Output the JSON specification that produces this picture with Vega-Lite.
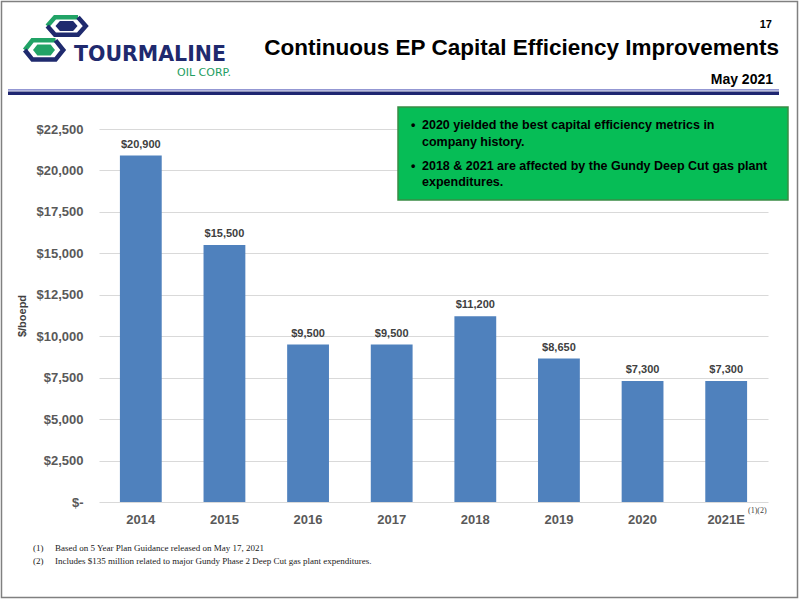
{
  "$schema": "https://vega.github.io/schema/vega-lite/v6.json",
  "description": "Tourmaline EP capital efficiency, $/boepd by year.",
  "width": 669,
  "height": 373,
  "autosize": "none",
  "padding": {"left": 99, "top": 129, "right": 32, "bottom": 98},
  "background": "#ffffff",
  "config": {"view": {"stroke": null}, "font": "Liberation Sans"},
  "resolve": {"scale": {"x": "independent"}},
  "layer": [
    {
      "data": {
        "values": [
          {"year": "2014", "cost": 20900},
          {"year": "2015", "cost": 15500},
          {"year": "2016", "cost": 9500},
          {"year": "2017", "cost": 9500},
          {"year": "2018", "cost": 11200},
          {"year": "2019", "cost": 8650},
          {"year": "2020", "cost": 7300},
          {"year": "2021E", "cost": 7300}
        ]
      },
      "encoding": {
        "x": {
          "field": "year",
          "type": "nominal",
          "sort": null,
          "scale": {"paddingInner": 0.5, "paddingOuter": 0.25},
          "axis": {
            "title": null,
            "labelAngle": 0,
            "domain": false,
            "ticks": false,
            "labelFont": "Liberation Sans",
            "labelFontWeight": "bold",
            "labelFontSize": 13,
            "labelColor": "#595959",
            "labelPadding": 11
          }
        },
        "y": {
          "field": "cost",
          "type": "quantitative",
          "title": "$/boepd",
          "scale": {"domain": [0, 22500], "nice": false},
          "axis": {
            "title": "$/boepd",
            "values": [0, 2500, 5000, 7500, 10000, 12500, 15000, 17500, 20000, 22500],
            "labelExpr": "datum.value == 0 ? '$-' : '$' + format(datum.value, ',')",
            "domain": false,
            "ticks": false,
            "gridColor": "#d9d9d9",
            "gridWidth": 1,
            "labelFont": "Liberation Sans",
            "labelFontWeight": "bold",
            "labelFontSize": 13,
            "labelColor": "#595959",
            "labelPadding": 16,
            "titleFont": "Liberation Sans",
            "titleFontWeight": "bold",
            "titleFontSize": 11,
            "titleColor": "#404040",
            "titlePadding": 9
          }
        }
      },
      "layer": [
        {"mark": {"type": "bar", "color": "#4F81BD"}},
        {
          "mark": {"type": "text", "baseline": "alphabetic", "dy": -8, "font": "Liberation Sans", "fontSize": 11, "fontWeight": "bold", "color": "#404040"},
          "encoding": {"text": {"field": "cost", "type": "quantitative", "format": "$,.0f"}}
        }
      ]
    },
    {
      "data": {
        "values": [
          {
            "brand": "TOURMALINE",
            "brandSub": "OIL CORP.",
            "page": "17",
            "headline": "Continuous EP Capital Efficiency Improvements",
            "date": "May 2021",
            "bullet": "•",
            "note1": "2020 yielded the best capital efficiency metrics in\ncompany history.",
            "note2": "2018 & 2021 are affected by the Gundy Deep Cut gas plant\nexpenditures.",
            "fnNum": "(1)\n(2)",
            "fnText": "Based on 5 Year Plan Guidance released on May 17, 2021\nIncludes $135 million related to major Gundy Phase 2 Deep Cut gas plant expenditures.",
            "sup": "(1)(2)"
          }
        ]
      },
      "layer": [
        {
          "mark": {"type": "rect", "filled": false, "color": "#808080", "strokeWidth": 1.5},
          "encoding": {
            "x": {"datum": -0.14574, "type": "quantitative", "scale": {"domain": [0, 1], "nice": false, "zero": false}, "axis": null},
            "x2": {"datum": 1.0441},
            "y": {"datum": 30191, "type": "quantitative", "title": "$/boepd", "scale": {"domain": [0, 22500], "nice": false}},
            "y2": {"datum": -5761}
          }
        },
        {
          "mark": {"type": "rule", "color": "#6f74c4", "strokeWidth": 1.2},
          "encoding": {
            "x": {"datum": -0.13602, "type": "quantitative", "scale": {"domain": [0, 1], "nice": false, "zero": false}, "axis": null},
            "x2": {"datum": 1.01644},
            "y": {"datum": 24866, "type": "quantitative", "title": "$/boepd", "scale": {"domain": [0, 22500], "nice": false}}
          }
        },
        {
          "mark": {"type": "rule", "color": "#1f2671", "strokeWidth": 3.5},
          "encoding": {
            "x": {"datum": -0.13602, "type": "quantitative", "scale": {"domain": [0, 1], "nice": false, "zero": false}, "axis": null},
            "x2": {"datum": 1.01644},
            "y": {"datum": 24654, "type": "quantitative", "title": "$/boepd", "scale": {"domain": [0, 22500], "nice": false}}
          }
        },
        {
          "mark": {"type": "point", "shape": "M-1,0L-0.6,-0.45L0.6,-0.45", "filled": false, "color": "#21a366", "strokeWidth": 4.5, "size": 1482, "opacity": 1},
          "encoding": {
            "x": {"datum": -0.04858, "type": "quantitative", "scale": {"domain": [0, 1], "nice": false, "zero": false}, "axis": null},
            "y": {"datum": 28713, "type": "quantitative", "title": "$/boepd", "scale": {"domain": [0, 22500], "nice": false}}
          }
        },
        {
          "mark": {"type": "point", "shape": "M0.6,-0.45L1,0L0.6,0.45L-0.6,0.45L-1,0", "filled": false, "color": "#1f2a6e", "strokeWidth": 4.5, "size": 1482, "opacity": 1},
          "encoding": {
            "x": {"datum": -0.04858, "type": "quantitative", "scale": {"domain": [0, 1], "nice": false, "zero": false}, "axis": null},
            "y": {"datum": 28713, "type": "quantitative", "title": "$/boepd", "scale": {"domain": [0, 22500], "nice": false}}
          }
        },
        {
          "mark": {"type": "point", "shape": "M-1,0L-0.6,-0.45L0.6,-0.45L1,0L0.6,0.45L-0.6,0.45Z", "filled": true, "color": "#1f2a6e", "size": 484, "opacity": 1},
          "encoding": {
            "x": {"datum": -0.04858, "type": "quantitative", "scale": {"domain": [0, 1], "nice": false, "zero": false}, "axis": null},
            "y": {"datum": 28713, "type": "quantitative", "title": "$/boepd", "scale": {"domain": [0, 22500], "nice": false}}
          }
        },
        {
          "mark": {"type": "point", "shape": "M-1,0L-0.6,-0.5L0.6,-0.5", "filled": false, "color": "#21a366", "strokeWidth": 4.5, "size": 1482, "opacity": 1},
          "encoding": {
            "x": {"datum": -0.08221, "type": "quantitative", "scale": {"domain": [0, 1], "nice": false, "zero": false}, "axis": null},
            "y": {"datum": 27266, "type": "quantitative", "title": "$/boepd", "scale": {"domain": [0, 22500], "nice": false}}
          }
        },
        {
          "mark": {"type": "point", "shape": "M0.6,-0.5L1,0L0.6,0.5L-0.6,0.5L-1,0", "filled": false, "color": "#1f2a6e", "strokeWidth": 4.5, "size": 1482, "opacity": 1},
          "encoding": {
            "x": {"datum": -0.08221, "type": "quantitative", "scale": {"domain": [0, 1], "nice": false, "zero": false}, "axis": null},
            "y": {"datum": 27266, "type": "quantitative", "title": "$/boepd", "scale": {"domain": [0, 22500], "nice": false}}
          }
        },
        {
          "mark": {"type": "point", "shape": "M-1,0L-0.6,-0.5L0.6,-0.5L1,0L0.6,0.5L-0.6,0.5Z", "filled": true, "color": "#21a366", "size": 484, "opacity": 1},
          "encoding": {
            "x": {"datum": -0.08221, "type": "quantitative", "scale": {"domain": [0, 1], "nice": false, "zero": false}, "axis": null},
            "y": {"datum": 27266, "type": "quantitative", "title": "$/boepd", "scale": {"domain": [0, 22500], "nice": false}}
          }
        },
        {
          "mark": {"type": "text", "align": "center", "baseline": "alphabetic", "font": "DejaVu Sans", "fontWeight": "bold", "fontSize": 20.5, "color": "#1f2a6e"},
          "encoding": {
            "x": {"datum": 0.07623, "type": "quantitative", "scale": {"domain": [0, 1], "nice": false, "zero": false}, "axis": null},
            "y": {"datum": 26602, "type": "quantitative", "title": "$/boepd", "scale": {"domain": [0, 22500], "nice": false}},
            "text": {"field": "brand"}
          }
        },
        {
          "mark": {"type": "text", "align": "right", "baseline": "alphabetic", "font": "DejaVu Sans", "fontSize": 11, "color": "#1f9e62"},
          "encoding": {
            "x": {"datum": 0.19731, "type": "quantitative", "scale": {"domain": [0, 1], "nice": false, "zero": false}, "axis": null},
            "y": {"datum": 25667, "type": "quantitative", "title": "$/boepd", "scale": {"domain": [0, 22500], "nice": false}},
            "text": {"field": "brandSub"}
          }
        },
        {
          "mark": {"type": "text", "align": "right", "baseline": "alphabetic", "font": "Liberation Sans", "fontWeight": "bold", "fontSize": 22.5, "color": "#000000"},
          "encoding": {
            "x": {"datum": 1.01644, "type": "quantitative", "scale": {"domain": [0, 1], "nice": false, "zero": false}, "axis": null},
            "y": {"datum": 26964, "type": "quantitative", "title": "$/boepd", "scale": {"domain": [0, 22500], "nice": false}},
            "text": {"field": "headline"}
          }
        },
        {
          "mark": {"type": "text", "align": "right", "baseline": "alphabetic", "font": "Liberation Sans", "fontWeight": "bold", "fontSize": 11, "color": "#000000"},
          "encoding": {
            "x": {"datum": 1.00598, "type": "quantitative", "scale": {"domain": [0, 1], "nice": false, "zero": false}, "axis": null},
            "y": {"datum": 28593, "type": "quantitative", "title": "$/boepd", "scale": {"domain": [0, 22500], "nice": false}},
            "text": {"field": "page"}
          }
        },
        {
          "mark": {"type": "text", "align": "right", "baseline": "alphabetic", "font": "Liberation Sans", "fontWeight": "bold", "fontSize": 14, "color": "#000000"},
          "encoding": {
            "x": {"datum": 1.00747, "type": "quantitative", "scale": {"domain": [0, 1], "nice": false, "zero": false}, "axis": null},
            "y": {"datum": 25215, "type": "quantitative", "title": "$/boepd", "scale": {"domain": [0, 22500], "nice": false}},
            "text": {"field": "date"}
          }
        },
        {
          "mark": {"type": "rect", "fill": "#06bd56", "stroke": "#3a8c45", "strokeWidth": 1.5},
          "encoding": {
            "x": {"datum": 0.44694, "type": "quantitative", "scale": {"domain": [0, 1], "nice": false, "zero": false}, "axis": null},
            "x2": {"datum": 1.0299},
            "y": {"datum": 23827, "type": "quantitative", "title": "$/boepd", "scale": {"domain": [0, 22500], "nice": false}},
            "y2": {"datum": 18217}
          }
        },
        {
          "mark": {"type": "text", "align": "left", "baseline": "alphabetic", "font": "Liberation Sans", "fontWeight": "bold", "fontSize": 12.5, "color": "#000000"},
          "encoding": {
            "x": {"datum": 0.46637, "type": "quantitative", "scale": {"domain": [0, 1], "nice": false, "zero": false}, "axis": null},
            "y": {"datum": 22500, "type": "quantitative", "title": "$/boepd", "scale": {"domain": [0, 22500], "nice": false}},
            "text": {"field": "bullet"}
          }
        },
        {
          "mark": {"type": "text", "align": "left", "baseline": "alphabetic", "lineBreak": "\n", "lineHeight": 16.5, "font": "Liberation Sans", "fontWeight": "bold", "fontSize": 12.5, "color": "#000000"},
          "encoding": {
            "x": {"datum": 0.48281, "type": "quantitative", "scale": {"domain": [0, 1], "nice": false, "zero": false}, "axis": null},
            "y": {"datum": 22500, "type": "quantitative", "title": "$/boepd", "scale": {"domain": [0, 22500], "nice": false}},
            "text": {"field": "note1"}
          }
        },
        {
          "mark": {"type": "text", "align": "left", "baseline": "alphabetic", "font": "Liberation Sans", "fontWeight": "bold", "fontSize": 12.5, "color": "#000000"},
          "encoding": {
            "x": {"datum": 0.46637, "type": "quantitative", "scale": {"domain": [0, 1], "nice": false, "zero": false}, "axis": null},
            "y": {"datum": 20027, "type": "quantitative", "title": "$/boepd", "scale": {"domain": [0, 22500], "nice": false}},
            "text": {"field": "bullet"}
          }
        },
        {
          "mark": {"type": "text", "align": "left", "baseline": "alphabetic", "lineBreak": "\n", "lineHeight": 16.5, "font": "Liberation Sans", "fontWeight": "bold", "fontSize": 12.5, "color": "#000000"},
          "encoding": {
            "x": {"datum": 0.48281, "type": "quantitative", "scale": {"domain": [0, 1], "nice": false, "zero": false}, "axis": null},
            "y": {"datum": 20027, "type": "quantitative", "title": "$/boepd", "scale": {"domain": [0, 22500], "nice": false}},
            "text": {"field": "note2"}
          }
        },
        {
          "mark": {"type": "text", "align": "left", "baseline": "alphabetic", "lineBreak": "\n", "lineHeight": 13, "font": "Liberation Serif", "fontSize": 9, "color": "#1a1a1a"},
          "encoding": {
            "x": {"datum": -0.09865, "type": "quantitative", "scale": {"domain": [0, 1], "nice": false, "zero": false}, "axis": null},
            "y": {"datum": -2956, "type": "quantitative", "title": "$/boepd", "scale": {"domain": [0, 22500], "nice": false}},
            "text": {"field": "fnNum"}
          }
        },
        {
          "mark": {"type": "text", "align": "left", "baseline": "alphabetic", "lineBreak": "\n", "lineHeight": 13, "font": "Liberation Serif", "fontSize": 9, "color": "#1a1a1a"},
          "encoding": {
            "x": {"datum": -0.06577, "type": "quantitative", "scale": {"domain": [0, 1], "nice": false, "zero": false}, "axis": null},
            "y": {"datum": -2956, "type": "quantitative", "title": "$/boepd", "scale": {"domain": [0, 22500], "nice": false}},
            "text": {"field": "fnText"}
          }
        },
        {
          "mark": {"type": "text", "align": "left", "baseline": "alphabetic", "font": "Liberation Serif", "fontSize": 8, "color": "#404040"},
          "encoding": {
            "x": {"datum": 0.9701, "type": "quantitative", "scale": {"domain": [0, 1], "nice": false, "zero": false}, "axis": null},
            "y": {"datum": -664, "type": "quantitative", "title": "$/boepd", "scale": {"domain": [0, 22500], "nice": false}},
            "text": {"field": "sup"}
          }
        }
      ]
    }
  ]
}
